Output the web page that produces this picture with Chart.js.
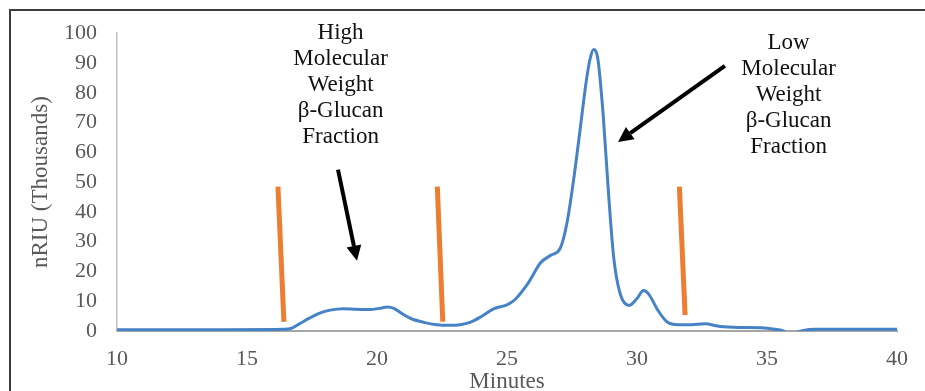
<!DOCTYPE html>
<html><head><meta charset="utf-8">
<script src="https://cdn.jsdelivr.net/npm/chart.js@4"></script>
<style>html,body{margin:0;padding:0;background:#fff;overflow:hidden}</style>
</head><body>
<canvas id="c" width="925" height="391"></canvas>
<script>
// ---- data ----
const minutes = [10, 12, 14, 16, 16.4, 16.7, 17.0, 17.4, 17.8, 18.2, 18.7, 19.2, 19.7, 20.1, 20.4, 20.65, 21.0, 21.3, 21.8, 22.3, 22.8, 23.2, 23.6, 24.0, 24.5, 25.0, 25.3, 25.8, 26.3, 26.7, 27.05, 27.3, 27.55, 27.8, 28.05, 28.2, 28.33, 28.5, 28.7, 28.9, 29.1, 29.35, 29.7, 30.0, 30.25, 30.45, 30.8, 31.15, 31.6, 32.1, 32.6, 33.2, 34.0, 34.8, 35.3, 35.6, 35.85, 36.1, 36.4, 36.9, 38, 40];
const nriu = [0.45, 0.45, 0.45, 0.5, 0.55, 0.9, 2.3, 4.3, 6.0, 7.0, 7.5, 7.3, 7.2, 7.6, 8.1, 7.6, 5.6, 4.2, 2.9, 2.1, 1.9, 2.1, 3.0, 4.8, 7.5, 8.8, 10.5, 15.9, 23, 25.5, 27.8, 36, 50, 66.8, 84, 91.5, 94.5, 91, 72.4, 46.8, 25, 12.6, 8.6, 10.9, 13.6, 12.4, 7, 3.1, 2.1, 2.1, 2.4, 1.5, 1.2, 1.1, 0.6, 0.1, -1.0, -0.5, 0.2, 0.55, 0.6, 0.6];
const xTicks = [10, 15, 20, 25, 30, 35, 40];
const yTicks = [0, 10, 20, 30, 40, 50, 60, 70, 80, 90, 100];
const cutX = [[16.19, 16.42], [22.32, 22.53], [31.63, 31.85]];
const cutY = [[48.5, 3.1], [48.5, 3.1], [48.5, 5.3]];
const arrowFrom = [[18.5, 54.2], [33.38, 89.0]];
const arrowTo = [[19.23, 23.6], [29.27, 63.5]];
const highLabel = ['High', 'Molecular', 'Weight', 'β-Glucan', 'Fraction'];
const lowLabel = ['Low', 'Molecular', 'Weight', 'β-Glucan', 'Fraction'];
const labelAnchors = [[18.6, 98.0], [35.83, 94.7]];
const labelTexts = [highLabel, lowLabel];

const SERIF = '"Liberation Serif", "Times New Roman", serif';

const datasets = [{
  data: minutes.map((m, i) => ({x: m, y: nriu[i]})),
  borderColor: '#4683c6', borderWidth: 3, pointRadius: 0,
  cubicInterpolationMode: 'monotone', clip: 0
}];
cutX.forEach((xs, k) => datasets.push({
  data: xs.map((v, i) => ({x: v, y: cutY[k][i]})),
  borderColor: '#ed7d31', borderWidth: 5, pointRadius: 0, tension: 0, borderCapStyle: 'butt'
}));

const overlay = {
  id: 'overlay',
  beforeDraw(chart) {
    const ctx = chart.ctx;
    ctx.save();
    ctx.strokeStyle = '#3c3c3c';
    ctx.lineWidth = 2;
    ctx.strokeRect(10, 10, 1000, 1000);
    ctx.restore();
  },
  afterDatasetsDraw(chart) {
    const ctx = chart.ctx, xs = chart.scales.x, ys = chart.scales.y;
    ctx.save();
    // arrows
    ctx.strokeStyle = '#000'; ctx.fillStyle = '#000'; ctx.lineWidth = 4;
    arrowFrom.forEach((f, i) => {
      const x0 = xs.getPixelForValue(f[0]), y0 = ys.getPixelForValue(f[1]);
      const x1 = xs.getPixelForValue(arrowTo[i][0]), y1 = ys.getPixelForValue(arrowTo[i][1]);
      const a = Math.atan2(y1 - y0, x1 - x0), hl = 15, hw = 7.5;
      const bx = x1 - hl * Math.cos(a), by = y1 - hl * Math.sin(a);
      ctx.beginPath(); ctx.moveTo(x0, y0); ctx.lineTo(bx, by); ctx.stroke();
      ctx.beginPath(); ctx.moveTo(x1, y1);
      ctx.lineTo(bx + hw * Math.sin(a), by - hw * Math.cos(a));
      ctx.lineTo(bx - hw * Math.sin(a), by + hw * Math.cos(a));
      ctx.closePath(); ctx.fill();
    });
    // labels
    ctx.font = '23px ' + SERIF; ctx.fillStyle = '#111';
    ctx.textAlign = 'center'; ctx.textBaseline = 'alphabetic';
    labelTexts.forEach((lines, i) => {
      const cx = xs.getPixelForValue(labelAnchors[i][0]);
      const cy = ys.getPixelForValue(labelAnchors[i][1]);
      lines.forEach((t, j) => ctx.fillText(t, cx, cy + j * 26));
    });
    ctx.restore();
  }
};

new Chart(document.getElementById('c'), {
  type: 'line',
  data: {datasets},
  plugins: [overlay],
  options: {
    responsive: false, animation: false, devicePixelRatio: 1,
    layout: {padding: {left: 10, right: 28, top: 30, bottom: 0}},
    plugins: {legend: {display: false}, tooltip: {enabled: false}},
    scales: {
      x: {
        type: 'linear', min: 10, max: 40,
        afterBuildTicks: s => { s.ticks = xTicks.map(v => ({value: v})); },
        grid: {display: false, drawTicks: false},
        border: {display: true, color: '#a6a6a6', width: 2},
        ticks: {font: {family: SERIF, size: 22}, color: '#595959', padding: 15, maxRotation: 0, autoSkip: false},
        title: {display: true, text: 'Minutes', font: {family: SERIF, size: 23, lineHeight: 0.8}, color: '#595959', padding: 0},
        afterFit: s => { s.height = 60; }
      },
      y: {
        type: 'linear', min: 0, max: 100,
        afterBuildTicks: s => { s.ticks = yTicks.map(v => ({value: v})); },
        grid: {display: false, drawTicks: false},
        border: {display: true, color: '#c0c0c0', width: 1.5},
        ticks: {font: {family: SERIF, size: 22}, color: '#595959', padding: 20, autoSkip: false},
        title: {display: true, text: 'nRIU (Thousands)', font: {family: SERIF, size: 23}, color: '#595959', padding: {top: 17, bottom: 0}},
        afterFit: s => { s.width = 107; }
      }
    }
  }
});
</script>
</body></html>
